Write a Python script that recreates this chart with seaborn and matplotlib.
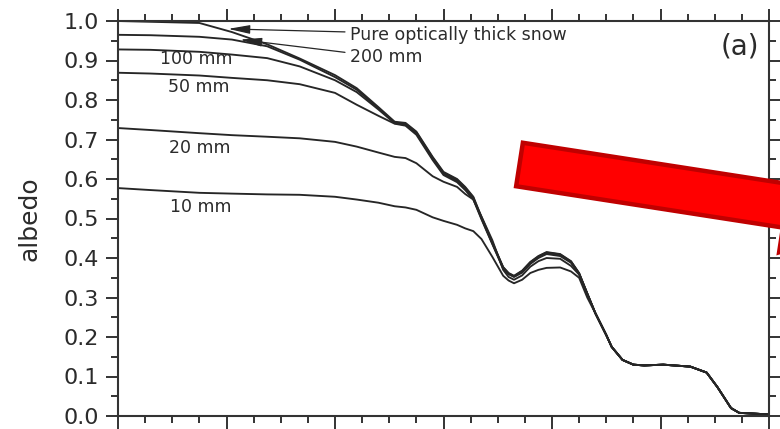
import numpy as np
import pandas as pd
import matplotlib
matplotlib.use("Agg")
import matplotlib.pyplot as plt
import seaborn as sns
from matplotlib.ticker import MultipleLocator, FormatStrFormatter
from matplotlib.patches import Polygon

# ---------------- data ----------------
wavelength = [0.30, 0.36, 0.45, 0.51, 0.575, 0.635, 0.70, 0.74, 0.78, 0.81,
              0.83, 0.85, 0.88, 0.90, 0.925, 0.94, 0.955, 0.97, 0.99, 1.01,
              1.02, 1.03, 1.045, 1.06, 1.075, 1.09, 1.115, 1.135, 1.15, 1.165,
              1.18, 1.20, 1.21, 1.23, 1.25, 1.27, 1.305, 1.355, 1.385, 1.405,
              1.43, 1.445, 1.50]

tail = [0.260, 0.205, 0.175, 0.142, 0.130, 0.128, 0.130, 0.125, 0.110, 0.073,
        0.020, 0.008, 0.004]

pure = [1.000, 0.998, 0.995, 0.972, 0.941, 0.905, 0.863, 0.830, 0.782, 0.745,
        0.742, 0.720, 0.656, 0.618, 0.600, 0.580, 0.555, 0.504, 0.440, 0.377,
        0.362, 0.355, 0.368, 0.390, 0.405, 0.415, 0.410, 0.392, 0.362, 0.310] + tail
mm200 = [0.965, 0.964, 0.960, 0.953, 0.936, 0.902, 0.858, 0.826, 0.779, 0.743,
         0.740, 0.718, 0.654, 0.616, 0.598, 0.578, 0.553, 0.502, 0.438, 0.376,
         0.361, 0.354, 0.367, 0.389, 0.404, 0.414, 0.409, 0.391, 0.361, 0.310] + tail
mm100 = [0.928, 0.927, 0.922, 0.915, 0.906, 0.885, 0.850, 0.820, 0.776, 0.741,
         0.737, 0.715, 0.651, 0.613, 0.595, 0.575, 0.550, 0.500, 0.437, 0.375,
         0.360, 0.353, 0.365, 0.387, 0.402, 0.412, 0.407, 0.390, 0.360, 0.310] + tail
mm50 = [0.869, 0.867, 0.862, 0.856, 0.850, 0.840, 0.818, 0.788, 0.760, 0.740,
        0.735, 0.712, 0.648, 0.610, 0.592, 0.572, 0.548, 0.498, 0.435, 0.373,
        0.359, 0.352, 0.363, 0.385, 0.400, 0.410, 0.405, 0.388, 0.360, 0.310] + tail
mm20 = [0.729, 0.724, 0.716, 0.711, 0.707, 0.703, 0.694, 0.682, 0.667, 0.656,
        0.653, 0.640, 0.607, 0.593, 0.580, 0.562, 0.548, 0.505, 0.445, 0.370,
        0.352, 0.345, 0.356, 0.378, 0.392, 0.400, 0.398, 0.380, 0.358, 0.308] + tail
mm10 = [0.577, 0.572, 0.565, 0.563, 0.561, 0.560, 0.555, 0.548, 0.540, 0.531,
        0.528, 0.522, 0.503, 0.494, 0.484, 0.475, 0.468, 0.448, 0.403, 0.355,
        0.343, 0.336, 0.345, 0.362, 0.370, 0.375, 0.376, 0.366, 0.350, 0.300] + tail

series_names = ["Pure", "200 mm", "100 mm", "50 mm", "20 mm", "10 mm"]
series_vals = [pure, mm200, mm100, mm50, mm20, mm10]

x_ticks = [0.3, 0.5, 0.7, 0.9, 1.1, 1.3, 1.5]
y_ticks = [0.0, 0.1, 0.2, 0.3, 0.4, 0.5, 0.6, 0.7, 0.8, 0.9, 1.0]

df = pd.DataFrame({
    "wavelength": np.tile(wavelength, len(series_names)),
    "albedo": np.concatenate(series_vals),
    "series": np.repeat(series_names, len(wavelength)),
})

# ---------------- figure ----------------
sns.set_theme(style="ticks")
plt.rcParams["font.family"] = ["DejaVu Sans"]

W, H = 780, 429
fig = plt.figure(figsize=(W / 100, H / 100), dpi=100)
ax = fig.add_axes([118 / W, 1 - 416 / H, (769 - 118) / W, (416 - 21) / H])

ink = "#262626"
for name in series_names:
    sub = df[df["series"] == name]
    sns.lineplot(data=sub, x="wavelength", y="albedo", color=ink, lw=1.35,
                 ax=ax, legend=False, sort=False, estimator=None,
                 solid_joinstyle="round", solid_capstyle="round")

ax.set_xlim(0.3, 1.5)
ax.set_ylim(0.0, 1.0)
ax.set_xticks(x_ticks)
ax.xaxis.set_minor_locator(MultipleLocator(0.05))
ax.set_yticks(y_ticks)
ax.yaxis.set_minor_locator(MultipleLocator(0.05))
ax.yaxis.set_major_formatter(FormatStrFormatter("%.1f"))

for side in ["left", "right", "top", "bottom"]:
    ax.spines[side].set_visible(True)
    ax.spines[side].set_linewidth(1.5)
    ax.spines[side].set_color("#333333")

ax.tick_params(which="both", direction="out", top=True, right=True,
               bottom=True, left=True, labelbottom=False, labeltop=False,
               labelright=False, color="#333333", width=1.4)
ax.tick_params(which="major", length=9)
ax.tick_params(which="minor", length=5)
ax.tick_params(axis="y", which="major", labelsize=16, pad=5,
               labelcolor="#2b2b2b")

ax.set_xlabel("")
ax.set_ylabel("albedo", fontsize=18, color="#2b2b2b")
ax.yaxis.set_label_coords(-0.118, 0.5)

# ---------------- annotations ----------------
lab_kw = dict(fontsize=12.5, color="#2b2b2b", ha="center", va="baseline")
ax.text(0.445, 0.891, "100 mm", **lab_kw)
ax.text(0.448, 0.820, "50 mm", **lab_kw)
ax.text(0.450, 0.666, "20 mm", **lab_kw)
ax.text(0.452, 0.517, "10 mm", **lab_kw)

arrow_kw = dict(arrowstyle="-|>,head_length=1.1,head_width=0.22",
                color=ink, lw=0.9, shrinkA=1, shrinkB=0, mutation_scale=12)
ax.annotate("Pure optically thick snow", xy=(0.503, 0.980),
            xytext=(0.727, 0.965), fontsize=12.5, color="#2b2b2b",
            ha="left", va="center", arrowprops=arrow_kw)
ax.annotate("200 mm", xy=(0.525, 0.953), xytext=(0.727, 0.908),
            fontsize=12.5, color="#2b2b2b", ha="left", va="center",
            arrowprops=arrow_kw)

ax.text(0.955, 0.935, "(a)", transform=ax.transAxes, fontsize=20,
        color="#2b2b2b", ha="center", va="center")

# ---------------- red overlay arrow (pixel geometry) ----------------
theta = np.arctan(0.155)
d = np.array([np.cos(theta), np.sin(theta)])
n = np.array([-np.sin(theta), np.cos(theta)])
S = np.array([519.5, 164.5])
half_w = 22.0
L_body = 270.0
head_half = 47.0
head_len = 100.0
pts_px = [S - half_w * n,
          S + L_body * d - half_w * n,
          S + L_body * d - head_half * n,
          S + (L_body + head_len) * d,
          S + L_body * d + head_half * n,
          S + L_body * d + half_w * n,
          S + half_w * n]
pts_fig = [(p[0] / W, 1 - p[1] / H) for p in pts_px]
arrow = Polygon(pts_fig, closed=True, transform=fig.transFigure,
                facecolor="#ff0000", edgecolor="#c00000", lw=3.2,
                joinstyle="miter", zorder=10, clip_on=False)
fig.patches.append(arrow)

fig.savefig("out.png", dpi=100)
